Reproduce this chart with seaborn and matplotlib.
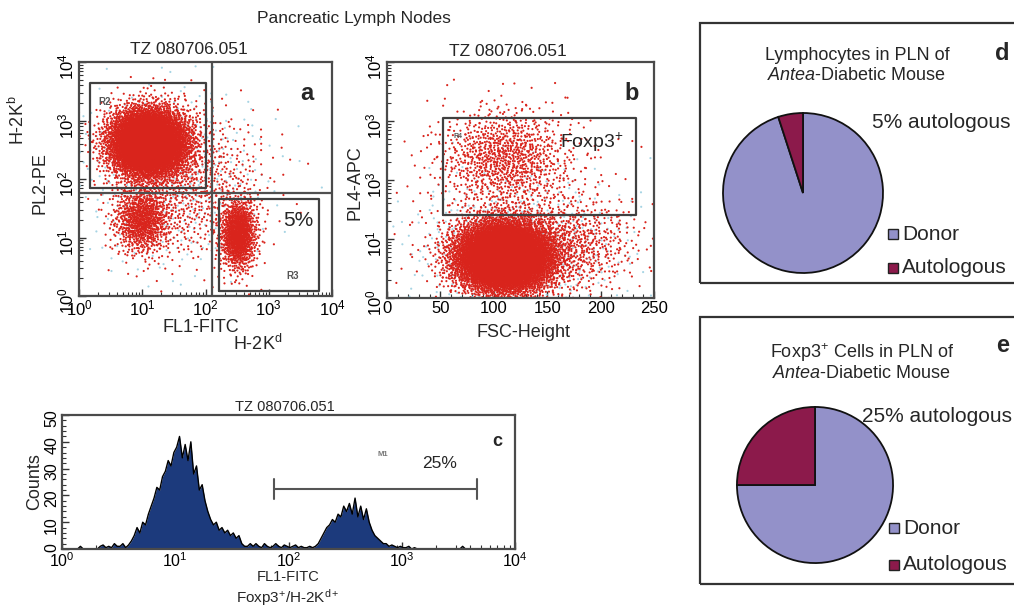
"""Flow cytometry panels (a-c) and chimerism pies (d, e) for pancreatic lymph nodes."""

import numpy as np
import pandas as pd
import seaborn as sns
import matplotlib.pyplot as plt
from matplotlib.patches import Rectangle
from matplotlib.ticker import MultipleLocator, FixedLocator, FixedFormatter, LogLocator

# ---- panel a: populations, log10(FL1-FITC) / log10(PL2-PE) ----
a_pops = ["R2 H-2Kb+", "H-2Kb- low", "R3 H-2Kd+", "spill", "bg"]
a_cx = [1.10, 1.00, 2.52, 1.75, 1.5]
a_cy = [2.62, 1.30, 1.05, 1.90, 2.0]
a_sx = [0.31, 0.22, 0.14, 0.60, 0.75]
a_sy = [0.29, 0.28, 0.30, 0.65, 0.75]
a_n = [6500, 900, 1100, 800, 450]

# gates (data units)
a_split_x = 126
a_split_y = 58
r2_gate = [1.5, 100, 70, 4400]      # x0, x1, y0, y1
r3_gate = [163, 6200, 1.2, 45]

# ---- panel b: FSC-Height (linear) / log10(PL4-APC) ----
b_pops = ["main", "Foxp3+", "large", "spill", "bg"]
b_cx = [110, 110, 175, 120, 125]
b_cy = [0.70, 2.40, 0.90, 1.60, 0.9]
b_sx = [23, 30, 30, 45, 50]
b_sy = [0.30, 0.40, 0.40, 0.80, 0.6]
b_n = [8500, 900, 600, 450, 600]
r4_gate = [52, 233, 26, 1120]
b_ytick_labels = [r"$\mathdefault{10^{0}}$", r"$\mathdefault{10^{1}}$", r"$\mathdefault{10^{3}}$",
                  r"$\mathdefault{10^{3}}$", r"$\mathdefault{10^{4}}$"]

# ---- panel c: FL1-FITC histogram, 160 channels over 10^0..10^4 ----
hist_counts = [
    0, 0, 0, 0, 0, 0, 1, 0, 0, 0, 0, 0, 0, 1,
    1.5, 0.5, 1, 0.5, 2, 1, 1, 2, 0.5, 1.5,
    3, 5, 8, 6, 10, 9, 13, 16, 19, 23,
    22, 27, 29, 33, 31, 36, 38, 42, 34, 39,
    33, 40, 28, 31, 22, 24, 18, 14, 11, 9,
    10, 7, 8, 6, 7, 5, 6, 4, 5, 2,
    1, 1, 2, 1, 2, 1, 0.5, 2, 1, 0.5,
    1, 2, 1, 0.5, 1.5, 1, 0.5, 1, 1.5, 0.5,
    1, 0.5, 0.5, 1, 0.5, 1, 2, 4, 6, 8,
    9, 11, 10, 13, 12, 16, 14, 17, 13, 19,
    12, 16, 11, 15, 10, 7, 5, 4, 3, 2,
    2, 1, 1.5, 1, 0.5, 1, 0.5, 0.5, 1, 0,
    0.5, 0, 0, 0, 0, 0, 0, 0, 0, 0,
    0, 0, 0, 0, 0, 0, 0, 1, 0, 0,
    0, 0, 0, 0, 0, 0, 0, 0, 0, 0, 0, 0, 0, 0, 0, 0,
]
m1_gate = [74, 4600, 22.4]

# ---- panels d, e: pies ----
pie_labels = ["Donor", "Autologous"]
d_values = [95, 5]
e_values = [75, 25]

RED = "#d9241c"
BLUE_DOT = "#a6d4e4"
NAVY = "#1c3a7c"
DONOR = "#9391c9"
AUTO = "#8c1a4b"
FRAME = "#4a4a4a"

W, H = 1014, 613

sns.set_theme(style="white")
plt.rcParams["font.family"] = ["Liberation Sans", "DejaVu Sans"]
plt.rcParams["mathtext.fontset"] = "custom"
plt.rcParams["mathtext.rm"] = "Liberation Sans"
plt.rcParams["mathtext.it"] = "Liberation Sans:italic"
plt.rcParams["mathtext.bf"] = "Liberation Sans:bold"


def halton(n, base, skip=20):
    i = np.arange(skip, n + skip)
    out = np.zeros(n)
    f = 1.0
    while np.any(i > 0):
        f /= base
        out += f * (i % base)
        i = i // base
    return out


def cloud(cx, cy, sx, sy, n, skip):
    # deterministic gaussian cloud for a population's density
    u1 = halton(n, 2, skip)
    u2 = halton(n, 3, skip)
    r = np.sqrt(-2 * np.log(u1))
    return cx + sx * r * np.cos(2 * np.pi * u2), cy + sy * r * np.sin(2 * np.pi * u2)


def px_axes(left, top, right, bottom):
    return fig.add_axes([left / W, 1 - bottom / H, (right - left) / W, (bottom - top) / H])


def put(x, y, s, **kw):
    kw.setdefault("ha", "center")
    kw.setdefault("va", "center")
    fig.text(x / W, 1 - y / H, s, **kw)


def style_frame(ax, size):
    for sp in ax.spines.values():
        sp.set_visible(True)
        sp.set_color(FRAME)
        sp.set_linewidth(1.6)
    ax.tick_params(which="both", direction="in", colors="#333333", labelcolor="black",
                   left=True, bottom=True, top=False, right=False, labelsize=size, pad=2)
    ax.tick_params(which="major", length=5, width=1.0)
    ax.tick_params(which="minor", length=3, width=0.8)
    ax.tick_params(axis="y", labelrotation=90)
    ax.set_xlabel("")
    ax.set_ylabel("")


fig = plt.figure(figsize=(W / 100, H / 100), dpi=100)

# ---------------- panel a ----------------
frames = []
for k, pop in enumerate(a_pops):
    x, y = cloud(a_cx[k], a_cy[k], a_sx[k], a_sy[k], a_n[k], 20 + 977 * k)
    frames.append(pd.DataFrame({"x": 10 ** np.clip(x, 0, 4), "y": 10 ** np.clip(y, 0, 4), "pop": pop}))
dfa = pd.concat(frames[::-1])
pal_a = {p: (BLUE_DOT if p == "bg" else RED) for p in a_pops}

ax_a = px_axes(79, 62, 332, 296)
ax_a.set_xscale("log")
ax_a.set_yscale("log")
sns.scatterplot(data=dfa, x="x", y="y", hue="pop", palette=pal_a, s=2.4, linewidth=0,
                legend=False, ax=ax_a)
ax_a.set_xlim(1, 1e4)
ax_a.set_ylim(1, 1e4)
ax_a.plot([a_split_x, a_split_x], [1, 1e4], color="#505050", lw=1.6)
ax_a.plot([1, 1e4], [a_split_y, a_split_y], color="#505050", lw=1.6)
for g in (r2_gate, r3_gate):
    ax_a.plot([g[0], g[1], g[1], g[0], g[0]], [g[2], g[2], g[3], g[3], g[2]], color="#404040", lw=1.6)
ax_a.xaxis.set_major_locator(LogLocator(base=10, numticks=10))
ax_a.yaxis.set_major_locator(LogLocator(base=10, numticks=10))
style_frame(ax_a, 12)

# ---------------- panel b ----------------
frames = []
for k, pop in enumerate(b_pops):
    x, y = cloud(b_cx[k], b_cy[k], b_sx[k], b_sy[k], b_n[k], 50 + 1231 * k)
    frames.append(pd.DataFrame({"x": np.clip(x, 0, 250), "y": 10 ** np.clip(y, 0, 4), "pop": pop}))
dfb = pd.concat(frames[::-1])
pal_b = {p: (BLUE_DOT if p == "bg" else RED) for p in b_pops}

ax_b = px_axes(387, 62, 654, 298)
ax_b.set_yscale("log")
sns.scatterplot(data=dfb, x="x", y="y", hue="pop", palette=pal_b, s=2.4, linewidth=0,
                legend=False, ax=ax_b)
ax_b.set_xlim(0, 250)
ax_b.set_ylim(1, 1e4)
g = r4_gate
ax_b.plot([g[0], g[1], g[1], g[0], g[0]], [g[2], g[2], g[3], g[3], g[2]], color="#404040", lw=1.6)
ax_b.xaxis.set_major_locator(MultipleLocator(50))
ax_b.xaxis.set_minor_locator(MultipleLocator(10))
ax_b.yaxis.set_major_locator(FixedLocator([1, 10, 100, 1000, 10000]))
ax_b.yaxis.set_major_formatter(FixedFormatter(b_ytick_labels))
style_frame(ax_b, 12)

# ---------------- panel c ----------------
centers = 10 ** ((np.arange(len(hist_counts)) + 0.5) * 4 / len(hist_counts))
ax_c = px_axes(62, 415, 515, 549)
sns.histplot(x=centers, weights=hist_counts, bins=len(hist_counts), binrange=(0, 4), log_scale=True,
             element="poly", fill=True, color=NAVY, linewidth=0, alpha=1, ax=ax_c)
sns.histplot(x=centers, weights=hist_counts, bins=len(hist_counts), binrange=(0, 4), log_scale=True,
             element="poly", fill=False, color="black", linewidth=1.0, ax=ax_c)
ax_c.set_xlim(1, 1e4)
ax_c.set_ylim(0, 50)
ax_c.plot([m1_gate[0], m1_gate[1]], [m1_gate[2]] * 2, color="#555555", lw=1.5)
for xv in m1_gate[:2]:
    ax_c.plot([xv, xv], [m1_gate[2] - 3.8, m1_gate[2] + 3.8], color="#555555", lw=1.5)
ax_c.yaxis.set_major_locator(MultipleLocator(10))
ax_c.yaxis.set_minor_locator(MultipleLocator(2))
ax_c.xaxis.set_major_locator(LogLocator(base=10, numticks=10))
style_frame(ax_c, 11.5)

# ---------------- texts, panels a-c ----------------
put(354, 18, "Pancreatic Lymph Nodes", fontsize=12.5)
put(189, 50, "TZ 080706.051", fontsize=12.5)
put(508, 51, "TZ 080706.051", fontsize=12.5)
put(307, 93, "a", fontsize=17, fontweight="bold")
put(105, 102, "R2", fontsize=7, fontweight="bold", color="#555555")
put(298, 220, "5%", fontsize=15)
put(293, 276, "R3", fontsize=7, fontweight="bold", color="#555555")
put(40, 183, "PL2-PE", fontsize=13, rotation=90)
put(18, 120, r"H-2K$^{\mathrm{b}}$", fontsize=13, rotation=90)
put(201, 328, "FL1-FITC", fontsize=13)
put(258, 344, r"H-2K$^{\mathrm{d}}$", fontsize=13)

put(632, 93, "b", fontsize=17, fontweight="bold")
put(355, 183, "PL4-APC", fontsize=13, rotation=90)
put(523, 332, "FSC-Height", fontsize=13)
put(592, 142, r"Foxp3$^{+}$", fontsize=14)
put(458, 137, "R4", fontsize=5, fontweight="bold", color="#555555")

put(285, 407, "TZ 080706.051", fontsize=10.5)
put(497, 442, "c", fontsize=13, fontweight="bold")
put(383, 454, "M1", fontsize=5.5, fontweight="bold", color="#777777")
put(440, 463, "25%", fontsize=12.5)
put(35, 482, "Counts", fontsize=13, rotation=90)
put(288, 577, "FL1-FITC", fontsize=10.5)
put(288, 598, r"Foxp3$^{+}$/H-2K$^{\mathrm{d+}}$", fontsize=11)

# ---------------- pies d, e ----------------
title_lines = ["Lymphocytes in PLN of", r"Foxp3$^{+}$ Cells in PLN of"]


def pie_panel(box, center, radius, values, title_xy, title, note, note_xy, letter_xy, letter, leg_x, leg_y):
    x0, y0, x1, y1 = box
    fig.add_artist(Rectangle((x0 / W, 1 - y1 / H), (x1 - x0) / W, (y1 - y0) / H,
                             transform=fig.transFigure, fill=False, edgecolor="#333333", lw=1.6))
    cx, cy = center
    ax = px_axes(cx - radius - 2, cy - radius - 2, cx + radius + 2, cy + radius + 2)
    ax.pie(values, colors=[DONOR, AUTO], startangle=90, counterclock=False,
           wedgeprops=dict(edgecolor="#111111", linewidth=1.3))
    ax.set_xlim(-1.025, 1.025)
    ax.set_ylim(-1.025, 1.025)
    ax.axis("off")
    tx, ty = title_xy
    put(tx, ty, title, fontsize=13)
    put(tx, ty + 20, r"$\mathit{Antea}$-Diabetic Mouse", fontsize=13)
    put(letter_xy[0], letter_xy[1], letter, fontsize=17, fontweight="bold")
    put(note_xy[0], note_xy[1], note, fontsize=15, ha="left")
    for lbl, col, ly in zip(pie_labels, [DONOR, AUTO], leg_y):
        fig.add_artist(Rectangle(((leg_x - 5) / W, 1 - (ly + 5) / H), 10 / W, 10 / H,
                                 transform=fig.transFigure, facecolor=col, edgecolor="#222222", lw=1.0))
        put(leg_x + 9, ly, lbl, fontsize=15, ha="left")


pie_panel((700, 23, 1030, 283), (803, 193), 80, d_values, (857, 55), title_lines[0], "5% autologous",
          (872, 122), (1002, 53), "d", 893, [234, 268])
pie_panel((700, 317, 1030, 584), (815, 485), 78, e_values, (862, 353), title_lines[1], "25% autologous",
          (862, 417), (1003, 345), "e", 894, [528, 565])

fig.savefig("out.png", dpi=100)
